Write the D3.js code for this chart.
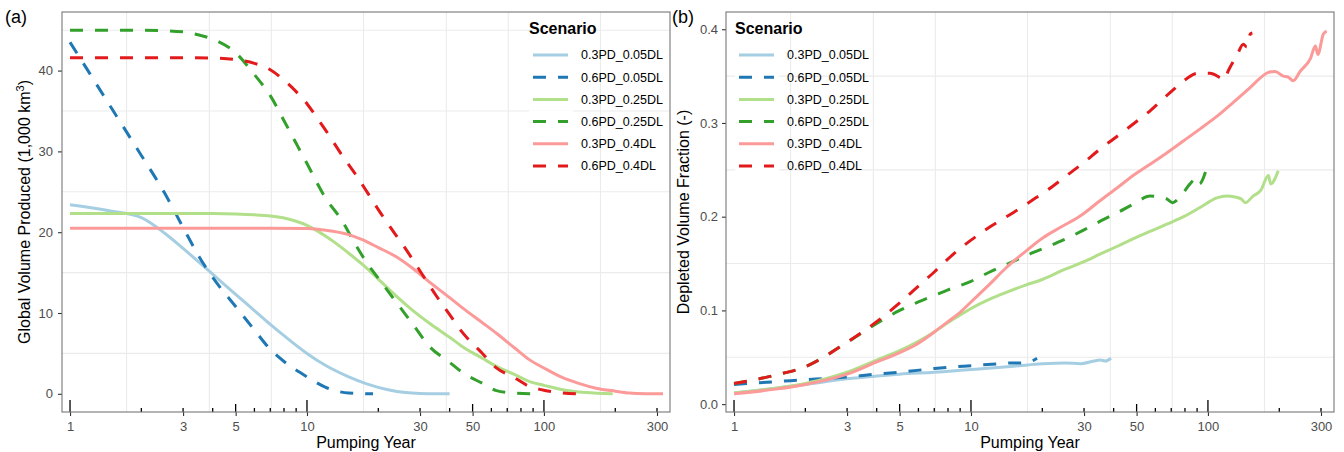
<!DOCTYPE html>
<html>
<head>
<meta charset="utf-8">
<script src="https://cdn.jsdelivr.net/npm/d3@7"></script>
<style>
    body { margin: 0; background: #fff; }
    svg { display: block; font-family: "Liberation Sans", Arial, sans-serif; }
</style>
</head>
<body>
<svg id="chart" width="1344" height="452"></svg>
<script>
"use strict";

const scenarios = ["0.3PD_0.05DL", "0.6PD_0.05DL", "0.3PD_0.25DL", "0.6PD_0.25DL", "0.3PD_0.4DL", "0.6PD_0.4DL"];
const scenarioColors = ["#a6cee3", "#1f78b4", "#b2df8a", "#33a02c", "#fb9a99", "#e31a1c"];
const scenarioDashed = [false, true, false, true, false, true];

const yearTicks = [1, 3, 5, 10, 30, 50, 100, 300];
const volumeTicks = [0, 10, 20, 30, 40];
const fractionTicks = [0, 0.1, 0.2, 0.3, 0.4];

// (a) global volume produced, [pumping year, 1,000 km3]
const vol_03PD_005DL = [[1, 23.4], [1.5, 22.6], [2, 21.8], [2.5, 19.9], [3, 18.0], [3.5, 16.3], [4, 14.8], [5, 12.3],
    [6, 10.3], [7, 8.6], [8, 7.2], [10, 5.0], [12, 3.5], [15, 2.1], [18, 1.2], [22, 0.5], [26, 0.15], [30, 0.03], [35, 0], [40, 0]];
const vol_06PD_005DL = [[1, 43.5], [1.25, 39.0], [1.5, 35.3], [2, 29.5], [2.5, 24.9], [3, 20.6], [3.5, 17.0], [4, 14.4],
    [5, 10.8], [6, 7.9], [7, 5.5], [8, 4.0], [10, 2.1], [12, 0.8], [15, 0.1], [19, 0]];
const vol_03PD_025DL = [[1, 22.3], [2, 22.3], [3, 22.3], [4, 22.3], [5, 22.25], [6, 22.15], [7, 22.0], [8, 21.75], [9, 21.35],
    [10, 20.85], [11, 20.2], [12, 19.5], [13, 18.8], [15, 17.4], [17, 16.1], [20, 14.2], [24, 12.0], [28, 10.3], [33, 8.7],
    [40, 7.0], [45, 5.9], [55, 4.4], [63, 3.4], [75, 2.4], [87, 1.5], [100, 1.05], [120, 0.5], [150, 0.15], [195, 0]];
const vol_06PD_025DL = [[1, 45], [2, 45], [3, 44.8], [3.5, 44.4], [4, 43.9], [5, 42.2], [6, 39.5], [7, 36.9], [8, 33.8],
    [9, 31.0], [10, 28.5], [12, 24.2], [14, 21.5], [16, 18.5], [18, 16.1], [20, 14.3], [24, 11.2], [28, 8.6], [33, 5.8],
    [40, 3.9], [45, 2.7], [55, 1.3], [63, 0.4], [75, 0.1], [90, 0]];
const vol_03PD_04DL = [[1, 20.5], [2, 20.5], [3, 20.5], [5, 20.5], [7, 20.5], [10, 20.45], [12, 20.25], [15, 19.7], [17, 19.1],
    [20, 18.1], [24, 16.9], [28, 15.5], [33, 13.8], [40, 11.9], [45, 10.7], [55, 8.8], [63, 7.5], [75, 5.7], [87, 4.2],
    [100, 3.2], [120, 2.0], [140, 1.3], [166, 0.7], [200, 0.33], [230, 0.1], [270, 0.02], [318, 0]];
const vol_06PD_04DL = [[1, 41.6], [2, 41.6], [3, 41.6], [4, 41.55], [5, 41.35], [6, 40.9], [7, 40.1], [8, 38.8], [9, 37.4],
    [10, 35.9], [11, 34.2], [12, 32.6], [14, 29.6], [16, 27.2], [18, 24.9], [20, 22.8], [23, 20.2], [26, 18.0], [30, 15.2],
    [35, 12.2], [40, 9.8], [45, 7.7], [55, 5.0], [63, 3.2], [75, 2.0], [87, 0.9], [100, 0.45], [120, 0.1], [141, 0]];

// (b) depleted volume fraction, [pumping year, -]
const frac_03PD_005DL = [[1, 0.012], [1.5, 0.017], [2, 0.021], [3, 0.027], [4, 0.030], [5, 0.032], [7, 0.034], [10, 0.037],
    [13, 0.039], [16, 0.041], [20, 0.043], [25, 0.044], [29, 0.043], [33, 0.046], [35, 0.047], [37, 0.046], [39, 0.049]];
const frac_06PD_005DL = [[1, 0.021], [1.5, 0.024], [2, 0.026], [3, 0.029], [4, 0.032], [5, 0.034], [7, 0.038], [10, 0.041],
    [13, 0.043], [15, 0.044], [17, 0.044], [19, 0.049]];
const frac_03PD_025DL = [[1, 0.012], [1.5, 0.017], [2, 0.022], [3, 0.034], [4, 0.047], [5, 0.057], [6, 0.067], [7, 0.077],
    [8, 0.087], [9, 0.095], [10, 0.102], [12, 0.112], [14, 0.119], [17, 0.127], [20, 0.133], [25, 0.144], [30, 0.152],
    [35, 0.160], [42, 0.169], [48, 0.176], [58, 0.185], [67, 0.192], [79, 0.200], [93, 0.210], [109, 0.220], [120, 0.222],
    [130, 0.221], [138, 0.219], [144, 0.215], [155, 0.222], [167, 0.228], [180, 0.244], [184, 0.235], [198, 0.249]];
const frac_06PD_025DL = [[1, 0.022], [1.5, 0.031], [2, 0.040], [3, 0.066], [4, 0.086], [5, 0.100], [6, 0.109], [7, 0.116],
    [8, 0.122], [10, 0.131], [12, 0.141], [15, 0.152], [18, 0.161], [22, 0.170], [26, 0.178], [30, 0.186], [35, 0.195],
    [42, 0.205], [49, 0.214], [57, 0.222], [63, 0.221], [67, 0.219], [71, 0.215], [75, 0.219], [79, 0.226], [84, 0.235],
    [90, 0.241], [92, 0.235], [98, 0.249]];
const frac_03PD_04DL = [[1, 0.011], [1.5, 0.016], [2, 0.021], [3, 0.032], [4, 0.045], [5, 0.055], [6, 0.065], [7, 0.077],
    [8, 0.088], [9, 0.098], [10, 0.109], [12, 0.128], [14, 0.145], [17, 0.163], [20, 0.177], [24, 0.189], [29, 0.201],
    [35, 0.217], [42, 0.232], [49, 0.245], [57, 0.256], [67, 0.268], [79, 0.281], [93, 0.294], [109, 0.307], [128, 0.322],
    [151, 0.338], [170, 0.350], [180, 0.354], [192, 0.355], [208, 0.350], [218, 0.349], [229, 0.345], [245, 0.355],
    [271, 0.369], [284, 0.382], [291, 0.373], [307, 0.395], [317, 0.398]];
const frac_06PD_04DL = [[1, 0.022], [1.5, 0.031], [2, 0.040], [3, 0.066], [4, 0.088], [5, 0.108], [6, 0.126], [7, 0.141],
    [8, 0.155], [9, 0.166], [10, 0.175], [12, 0.189], [15, 0.204], [18, 0.217], [22, 0.232], [26, 0.246], [30, 0.258],
    [35, 0.272], [42, 0.287], [49, 0.300], [57, 0.313], [69, 0.332], [81, 0.347], [90, 0.353], [102, 0.353], [113, 0.348],
    [117, 0.346], [122, 0.356], [133, 0.373], [141, 0.384], [146, 0.381], [151, 0.395], [154, 0.396]];

const panelTop = 12;
const panelW = 608;
const panelH = 400;
const yearDomain = [0.925, 340.4];
const grey = "#4d4d4d";

const svg = d3.select("#chart");

const drawPanel = (p) => {
    const g = svg.append("g").attr("transform", `translate(${p.left},${panelTop})`);
    const x = d3.scaleLog().domain(yearDomain).range([0, panelW]);
    const y = d3.scaleLinear().domain(p.yDomain).range([panelH, 0]);

    // minor grid only (midpoints between breaks)
    const xMinor = d3.pairs(yearTicks).map(([a, b]) => Math.sqrt(a * b));
    const step = p.ticks[1] - p.ticks[0];
    const yMinor = p.ticks.map((t) => t + step / 2).filter((v) => v < p.yDomain[1]);
    g.selectAll(".gx").data(xMinor).join("line")
        .attr("x1", (d) => x(d)).attr("x2", (d) => x(d))
        .attr("y1", 0).attr("y2", panelH)
        .attr("stroke", "#ebebeb").attr("stroke-width", 1.1);
    g.selectAll(".gy").data(yMinor).join("line")
        .attr("x1", 0).attr("x2", panelW)
        .attr("y1", (d) => y(d)).attr("y2", (d) => y(d))
        .attr("stroke", "#ebebeb").attr("stroke-width", 1.1);

    // series
    const line = d3.line()
        .x((d) => x(d[0]))
        .y((d) => y(d[1]))
        .curve(d3.curveMonotoneX);
    p.series.forEach((s, i) => {
        g.append("path")
            .datum(s)
            .attr("fill", "none")
            .attr("stroke", scenarioColors[i])
            .attr("stroke-width", 3)
            .attr("stroke-linejoin", "round")
            .attr("stroke-dasharray", scenarioDashed[i] ? "13,12" : null)
            .attr("d", line);
    });

    // log ticks inside the bottom of the panel
    const logTicks = [];
    [1, 10, 100].forEach((dec) => {
        d3.range(1, 10).forEach((k) => {
            const v = k * dec;
            if (x(v) >= 0 && x(v) <= panelW) logTicks.push({ v, len: k === 1 ? 12 : (k === 5 ? 8 : 4) });
        });
    });
    g.selectAll(".lt").data(logTicks).join("line")
        .attr("x1", (d) => x(d.v)).attr("x2", (d) => x(d.v))
        .attr("y1", panelH).attr("y2", (d) => panelH - d.len)
        .attr("stroke", "#000").attr("stroke-width", 1.3);

    // axes
    const xAxis = g.append("g")
        .attr("transform", `translate(0,${panelH})`)
        .call(d3.axisBottom(x).tickValues(yearTicks).tickFormat(d3.format("d")).tickSize(4).tickPadding(6));
    const yAxis = g.append("g")
        .call(d3.axisLeft(y).tickValues(p.ticks).tickFormat(p.format).tickSize(4).tickPadding(p.pad));
    [xAxis, yAxis].forEach((a) => {
        a.select(".domain").remove();
        a.selectAll(".tick line").attr("stroke", "#333").attr("stroke-width", 1.1);
        a.selectAll(".tick text").attr("fill", grey).style("font-size", "13px").style("font-family", null);
    });

    // panel border
    g.append("rect")
        .attr("width", panelW).attr("height", panelH)
        .attr("fill", "none").attr("stroke", "#777").attr("stroke-width", 1.1);

    // axis titles
    svg.append("text")
        .attr("x", p.left + panelW / 2).attr("y", 448)
        .attr("text-anchor", "middle")
        .style("font-size", "16px")
        .text("Pumping Year");
    const yt = svg.append("text")
        .attr("transform", `translate(${p.titleX},${panelTop + panelH / 2}) rotate(-90)`)
        .attr("text-anchor", "middle")
        .style("font-size", "16px")
        .text(p.yTitle);
    if (p.sup) {
        yt.append("tspan").attr("baseline-shift", "super").style("font-size", "11px").text(p.sup);
        yt.append("tspan").text(")");
    }

    // panel tag
    svg.append("text")
        .attr("x", p.tagX).attr("y", 23)
        .style("font-size", "18px")
        .text(p.tag);

    // legend
    const lg = svg.append("g").attr("transform", `translate(${p.legendX},0)`);
    lg.append("text")
        .attr("x", 0).attr("y", 34)
        .style("font-size", "16px").style("font-weight", "bold")
        .text("Scenario");
    scenarios.forEach((name, i) => {
        const ry = 55 + i * 22.2;
        lg.append("rect")
            .attr("x", 0).attr("y", ry - 11).attr("width", 44).attr("height", 22.2)
            .attr("fill", "#fff");
        lg.append("line")
            .attr("x1", 4).attr("x2", 39).attr("y1", ry).attr("y2", ry)
            .attr("stroke", scenarioColors[i]).attr("stroke-width", 3)
            .attr("stroke-dasharray", scenarioDashed[i] ? "13,12" : null);
        lg.append("text")
            .attr("x", 52).attr("y", ry + 4.3)
            .style("font-size", "12.5px")
            .text(name);
    });
};

drawPanel({
    left: 62,
    yDomain: [-2.25, 47.25],
    ticks: volumeTicks,
    format: d3.format("d"),
    pad: 5,
    series: [vol_03PD_005DL, vol_06PD_005DL, vol_03PD_025DL, vol_06PD_025DL, vol_03PD_04DL, vol_06PD_04DL],
    yTitle: "Global Volume Produced (1,000 km",
    sup: "3",
    titleX: 30,
    tag: "(a)",
    tagX: 5,
    legendX: 529,
});

drawPanel({
    left: 726,
    yDomain: [-0.0084, 0.4184],
    ticks: fractionTicks,
    format: d3.format(".1f"),
    pad: 4,
    series: [frac_03PD_005DL, frac_06PD_005DL, frac_03PD_025DL, frac_06PD_025DL, frac_03PD_04DL, frac_06PD_04DL],
    yTitle: "Depleted Volume Fraction (-)",
    sup: null,
    titleX: 689,
    tag: "(b)",
    tagX: 672,
    legendX: 735,
});
</script>
</body>
</html>
